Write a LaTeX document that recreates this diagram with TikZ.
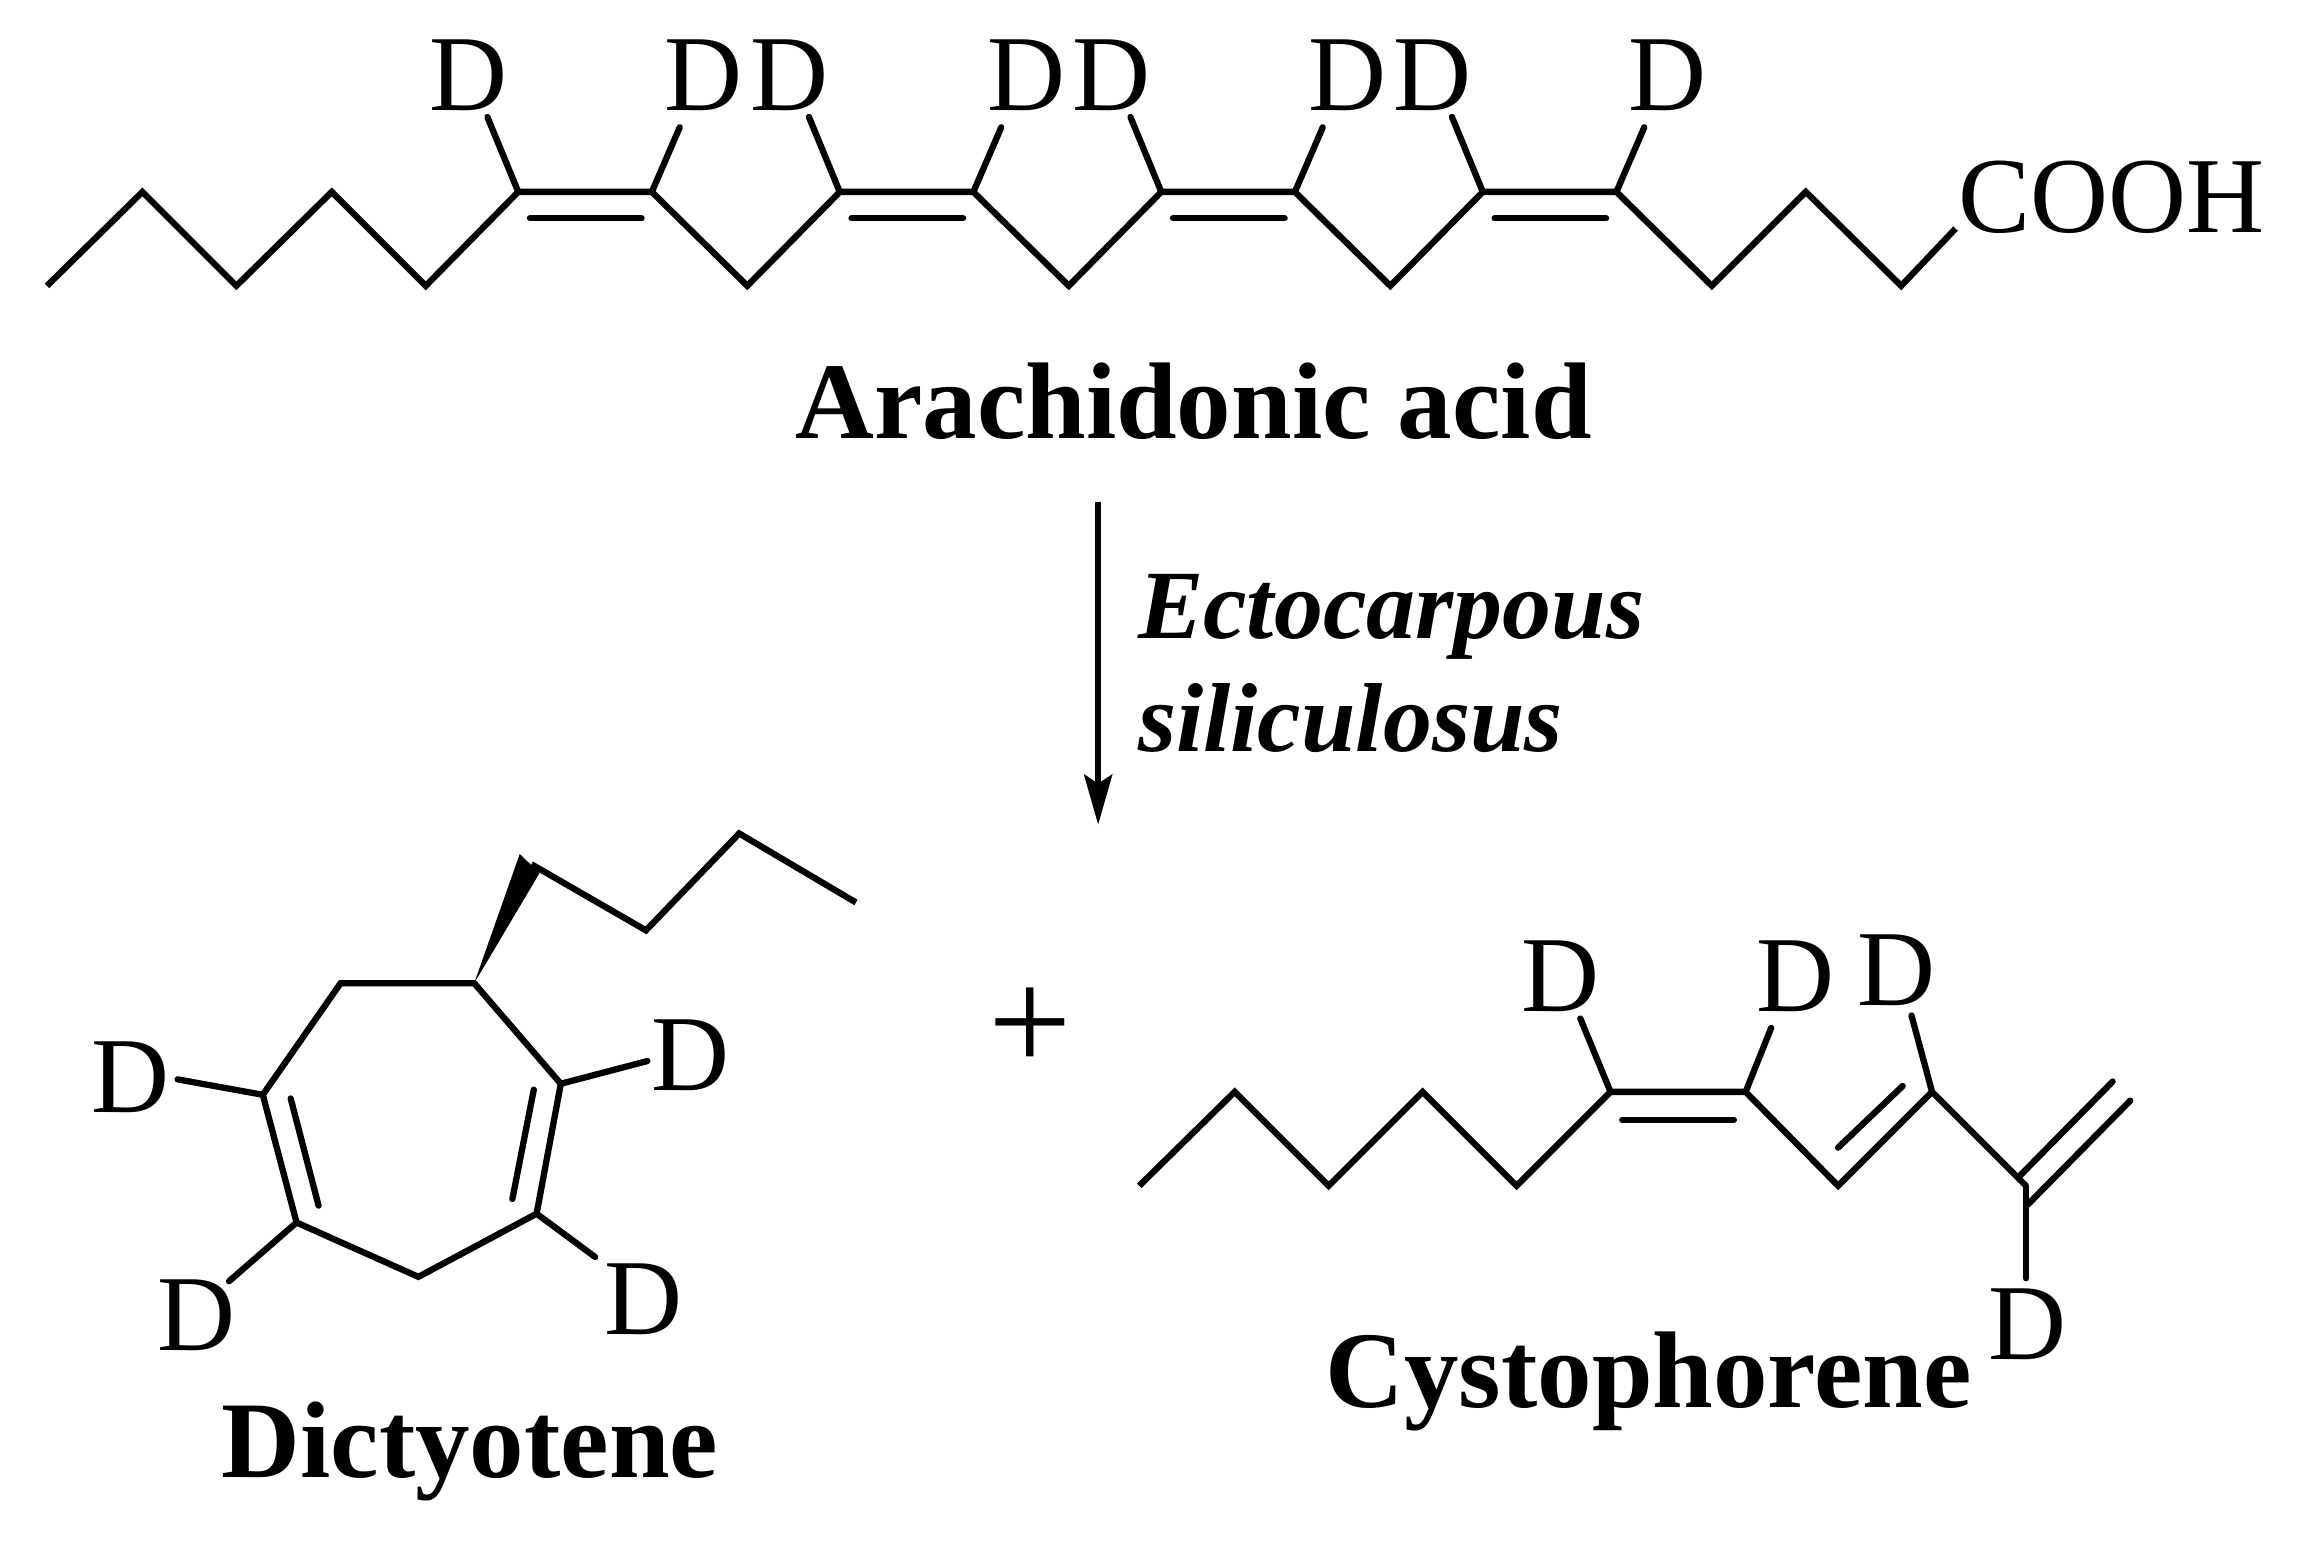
\documentclass[tikz,border=0pt]{standalone}
\usepackage{fontspec}
\setmainfont{Liberation Serif}
\usetikzlibrary{arrows.meta}
\tikzset{
  x=1.4681pt,y=-1.4681pt,
  bond/.style={line width=6.3pt,line cap=butt,line join=miter,miter limit=10},
  lab/.style={inner sep=0pt,anchor=base,font=\fontsize{108}{108}\selectfont},
  title/.style={inner sep=0pt,anchor=base,font=\fontsize{109}{109}\selectfont\bfseries},
  spec/.style={inner sep=0pt,anchor=base west,font=\fontsize{98}{98}\selectfont\bfseries\itshape},
}
\begin{document}
\begin{tikzpicture}
\useasboundingbox (0,0) rectangle (1568,1055.8);
\begin{scope}[yshift=-2.5pt]
% Arachidonic acid atoms
\foreach \n/\x/\y in {a0/32/193,a1/97/129,a2/161/193,a3/226/129,a4/290/193,c1/353/129,c2/444/129,a5/509/193,c3/572/129,c4/663/129,a6/728/193,c5/791/129,c6/882/129,a7/947/193,c7/1010/129,c8/1101/129,a8/1166/193,a9/1230/129,a10/1295/193,a11/1332/154,
 i1/361/147,i2/437/147,i3/580/147,i4/656/147,i5/799/147,i6/875/147,i7/1018/147,i8/1094/147,
 e1/332/78,e2/463/85,e3/551/78,e4/682/85,e5/770/78,e6/901/85,e7/989/78,e8/1120/85}
  {\coordinate (\n) at (\x,\y);}
\draw[bond] (a0)--(a1)--(a2)--(a3)--(a4)--(c1)--(c2)--(a5)--(c3)--(c4)--(a6)--(c5)--(c6)--(a7)--(c7)--(c8)--(a8)--(a9)--(a10)--(a11);
\foreach \p/\q in {i1/i2,i3/i4,i5/i6,i7/i8,c1/e1,c2/e2,c3/e3,c4/e4,c5/e5,c6/e6,c7/e7,c8/e8}
  {\draw[bond,line cap=round] (\p)--(\q);}
\foreach \n/\x in {d1/319,d2/479,d3/538,d4/699,d5/757,d6/918,d7/976,d8/1136}
  {\node[lab] (\n) at (\x,73.5) {D};}
\node[inner sep=0pt,anchor=base west,font=\fontsize{108}{108}\selectfont] (cooh) at (1334,157) {COOH};
\node[title] (aa) at (813,297) {Arachidonic acid};
% Reaction arrow
\coordinate (r1) at (748,340);
\coordinate (r2) at (748,560);
\draw[line width=6pt,-{Stealth[length=50pt,width=28pt,inset=9pt]}] (r1)--(r2);
\node[spec] (s1) at (775,433) {Ectocarpous};
\node[spec] (s2) at (775,510) {siliculosus};
\node[inner sep=0pt,font=\fontsize{148}{148}\selectfont] (plus) at (702,700) {+};
% Dictyotene
\foreach \n/\x/\y in {r1a/232/668,r2a/323/668,r3a/382/736.5,r4a/365.5/825,r5a/285/868,r6a/202/831,r7a/179/744,
 w1/354/580,w2/367.5/593,t0/362/587,t1/440/632,t2/503.5/566,t3/583/613,
 j1/198/746.5,j2/217/819.5,j3/363.6/740.5,j4/349/815,
 f1/121/733.5,f2/441/721,f3/156/871,f4/405.4/854.5}
  {\coordinate (\n) at (\x,\y);}
\draw[bond] (r1a)--(r2a)--(r3a)--(r4a)--(r5a)--(r6a)--(r7a)--cycle;
\fill (r2a)--(w1)--(w2)--cycle;
\draw[bond] (t0)--(t1)--(t2)--(t3);
\foreach \p/\q in {j1/j2,j3/j4,r7a/f1,r3a/f2,r6a/f3,r4a/f4}
  {\draw[bond,line cap=round] (\p)--(\q);}
\node[lab] (g1) at (89,756) {D};
\node[lab] (g2) at (470,741) {D};
\node[lab] (g3) at (134,918) {D};
\node[lab] (g4) at (438,907) {D};
\node[title] (dict) at (320,1005) {Dictyotene};
% Cystophorene
\foreach \n/\x/\y in {b0/776/806,b1/841/742,b2/905/806,b3/969/742,b4/1033/806,b5/1097/742,b6/1189/742,b7/1252/806,b8/1316/742,b9/1380/806,
 k1/1105/761,k2/1181/761,k3/1252/780,k4/1296/738,m1/1375/800,m2/1439/735,m3/1381/819,m4/1451/748,n1/1380/869,
 h1/1076.4/692,h2/1206.4/698.5,h3/1302/690}
  {\coordinate (\n) at (\x,\y);}
\draw[bond] (b0)--(b1)--(b2)--(b3)--(b4)--(b5)--(b6)--(b7)--(b8)--(b9);
\foreach \p/\q in {k1/k2,k3/k4,m1/m2,m3/m4,b9/n1,b5/h1,b6/h2,b8/h3}
  {\draw[bond,line cap=round] (\p)--(\q);}
\node[lab] (q1) at (1063,687) {D};
\node[lab] (q2) at (1223,687) {D};
\node[lab] (q3) at (1292,683.5) {D};
\node[lab] (q4) at (1381,924.5) {D};
\node[title] (cyst) at (1123,957) {Cystophorene};
\end{scope}
\end{tikzpicture}
\end{document}
